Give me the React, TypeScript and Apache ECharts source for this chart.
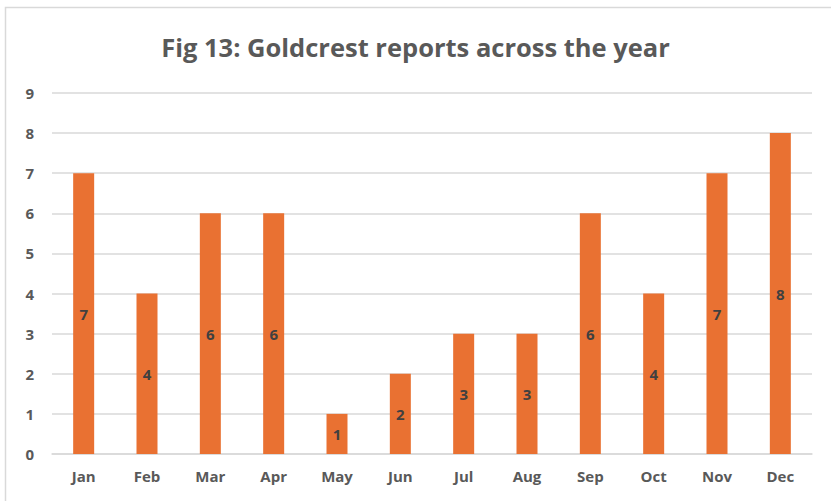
import React, { useEffect, useRef } from "react";
import * as echarts from "echarts";

const months = ["Jan", "Feb", "Mar", "Apr", "May", "Jun", "Jul", "Aug", "Sep", "Oct", "Nov", "Dec"];
const reports = [7, 4, 6, 6, 1, 2, 3, 3, 6, 4, 7, 8];
const titleText = "Fig 13: Goldcrest reports across the year";

export default function App() {
  const ref = useRef<HTMLDivElement>(null);
  useEffect(() => {
    document.body.style.margin = "0";
    const chart = echarts.init(ref.current!, null, { renderer: "svg" });
    chart.setOption({
      animation: false,
      backgroundColor: "#ffffff",
      title: {
        text: titleText,
        left: "center",
        top: 29,
        textStyle: {
          fontFamily: "'Open Sans', sans-serif",
          fontSize: 25.5,
          fontWeight: "bold",
          color: "#595959",
        },
      },
      graphic: [
        {
          type: "rect",
          shape: { x: 5.5, y: 7.5, width: 840, height: 520 },
          style: { fill: "none", stroke: "#d9d9d9", lineWidth: 1.5 },
          silent: true,
        },
      ],
      grid: { left: 52, right: 19, top: 93, bottom: 47, containLabel: false },
      xAxis: {
        type: "category",
        data: months,
        axisLine: { show: true, lineStyle: { color: "#d9d9d9", width: 1.5 } },
        axisTick: { show: false },
        axisLabel: {
          color: "#595959",
          fontWeight: "bold",
          fontSize: 15,
          fontFamily: "'Open Sans', sans-serif",
          margin: 14,
        },
      },
      yAxis: {
        type: "value",
        min: 0,
        max: 9,
        interval: 1,
        axisLine: { show: false },
        axisTick: { show: false },
        splitLine: { lineStyle: { color: "#d9d9d9", width: 1.5 } },
        axisLabel: {
          color: "#595959",
          fontWeight: "bold",
          fontSize: 15,
          fontFamily: "'Open Sans', sans-serif",
          margin: 18,
        },
      },
      series: [
        {
          type: "bar",
          data: reports,
          barWidth: 21,
          itemStyle: { color: "#E97132" },
          label: {
            show: true,
            position: "inside",
            color: "#404040",
            fontWeight: "bold",
            fontSize: 15,
            fontFamily: "'Open Sans', sans-serif",
          },
        },
      ],
    });
    return () => chart.dispose();
  }, []);
  return <div ref={ref} style={{ width: 831, height: 501 }} />;
}
